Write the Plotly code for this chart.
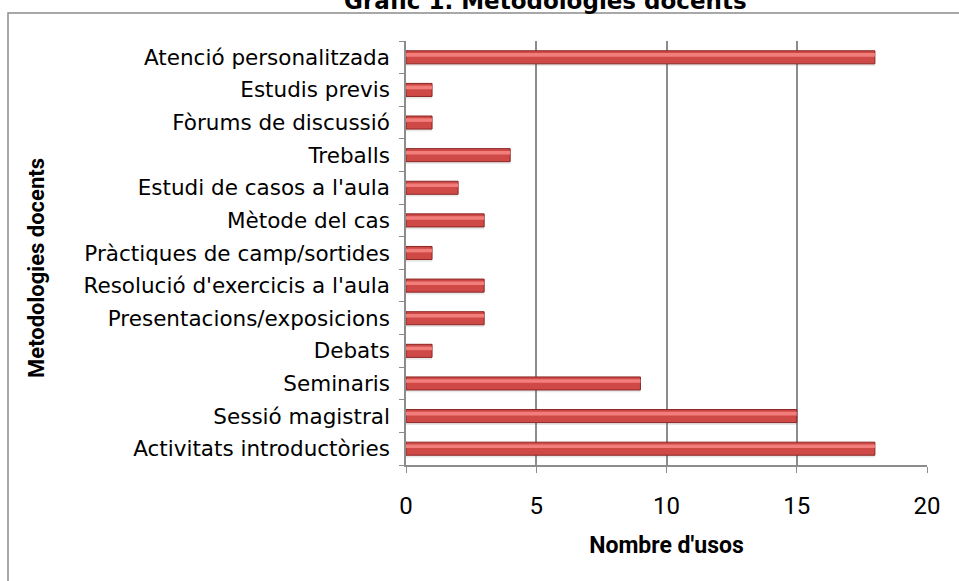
import plotly.graph_objects as go

categories = [
    "Activitats introductòries",
    "Sessió magistral",
    "Seminaris",
    "Debats",
    "Presentacions/exposicions",
    "Resolució d'exercicis a l'aula",
    "Pràctiques de camp/sortides",
    "Mètode del cas",
    "Estudi de casos a l'aula",
    "Treballs",
    "Fòrums de discussió",
    "Estudis previs",
    "Atenció personalitzada",
]
values = [18, 15, 9, 1, 3, 3, 1, 3, 2, 4, 1, 1, 18]
x_ticks = [0, 5, 10, 15, 20]

title_text = "Gràfic 1. Metodologies docents"
x_title = "Nombre d'usos"
y_title = "Metodologies docents"

W, H = 959, 581
ml, mr, mt, mb = 406, 32, 41, 116
PW, PH = W - ml - mr, H - mt - mb

fig = go.Figure()
# shadow
fig.add_trace(go.Bar(
    x=values, y=categories, orientation="h", width=0.44, offset=-0.27,
    marker=dict(color="rgba(110,110,110,0.16)", line=dict(width=0)),
    hoverinfo="skip", showlegend=False,
))
# main bar
fig.add_trace(go.Bar(
    x=values, y=categories, orientation="h", width=0.4, offset=-0.2,
    marker=dict(color="#CF4A47", line=dict(color="#8A2624", width=1)),
    showlegend=False,
))
# highlight
fig.add_trace(go.Bar(
    x=values, y=categories, orientation="h", width=0.11, offset=0.02,
    marker=dict(color="#F27E7C", line=dict(width=0)),
    hoverinfo="skip", showlegend=False,
))

fig.update_layout(
    width=W, height=H,
    margin=dict(l=ml, r=mr, t=mt, b=mb, pad=0),
    paper_bgcolor="white", plot_bgcolor="white",
    barmode="overlay",
    xaxis=dict(
        range=[0, 20], tickvals=x_ticks, showgrid=True, gridcolor="#8C8C8C",
        gridwidth=1.5, zeroline=False, showline=True, linecolor="#8C8C8C",
        linewidth=1.5, ticks="outside", ticklen=6, tickcolor="#8C8C8C",
        tickfont=dict(family="Roboto, sans-serif", size=24, color="black"),
        ticklabelstandoff=12,
        title=dict(text=x_title, standoff=18,
                   font=dict(family="Roboto, sans-serif", size=23, color="black", weight="bold")),
    ),
    yaxis=dict(
        categoryorder="array", categoryarray=categories, type="category",
        range=[-0.5, 12.5], showgrid=False, zeroline=False, showline=True,
        linecolor="#8C8C8C", linewidth=1.5, ticks="outside", ticklen=5,
        tickcolor="#8C8C8C", tickson="boundaries",
        tickfont=dict(family="DejaVu Sans, Verdana, sans-serif", size=21.5, color="black"),
        ticklabelstandoff=10,
    ),
    shapes=[dict(type="rect", xref="paper", yref="paper",
                 x0=(8 - ml) / PW, x1=1.2,
                 y0=-0.6, y1=(H - mb - 13) / PH,
                 line=dict(color="#8C8C8C", width=1.5), fillcolor="rgba(0,0,0,0)", layer="below")],
    annotations=[
        dict(text=title_text, xref="paper", yref="paper", x=(545 - ml) / PW, y=1,
             xanchor="center", yanchor="middle", yshift=mt - 1, showarrow=False,
             font=dict(family="DejaVu Sans, Verdana, sans-serif", size=23, color="black", weight="bold")),
        dict(text=y_title, xref="paper", yref="paper", x=(36 - ml) / PW,
             y=(H - mb - 268) / PH, textangle=-90, showarrow=False,
             xanchor="center", yanchor="middle",
             font=dict(family="Roboto, sans-serif", size=22, color="black", weight="bold")),
    ],
)

fig.write_html("out.html", config={"displayModeBar": False},
               post_script="document.body.style.margin='0';")
